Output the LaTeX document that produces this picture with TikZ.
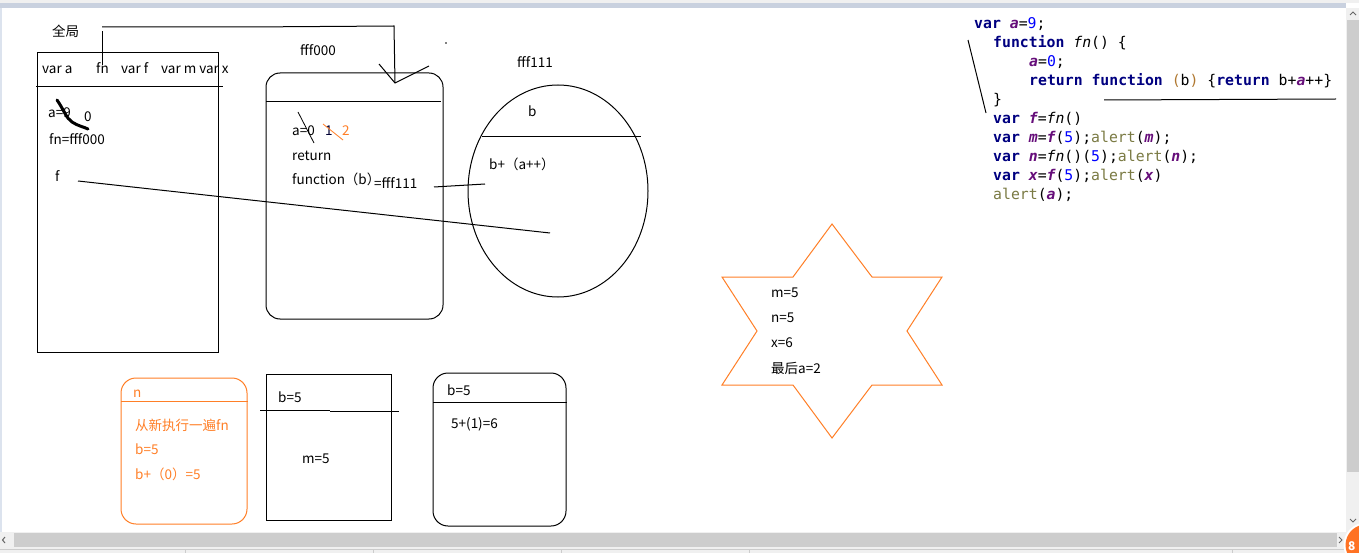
\documentclass[tikz,border=0pt]{standalone}
\usepackage{fontspec}
\setmainfont{Noto Sans CJK SC}
\newfontfamily\codefont{DejaVu Sans Mono}
\definecolor{paintorange}{HTML}{FF7F27}
\definecolor{kwcol}{HTML}{000080}
\definecolor{varcol}{HTML}{660E7A}
\definecolor{numcol}{HTML}{0000FF}
\definecolor{alcol}{HTML}{7A7A43}
\definecolor{parcol}{HTML}{B07830}
\definecolor{chromebg}{HTML}{F0F0F0}
\definecolor{chromebar}{HTML}{CDCDCD}
\definecolor{chrometop}{HTML}{C9D1DF}
\definecolor{chromeleft}{HTML}{DCE3EE}
\newcommand\cKw[1]{{\bfseries\color{kwcol}#1}}
\newcommand\cVr[1]{{\bfseries\itshape\color{varcol}#1}}
\newcommand\cNum[1]{{\color{numcol}#1}}
\newcommand\cAl[1]{{\color{alcol}#1}}
\newcommand\cPar[1]{{\color{parcol}#1}}
\begin{document}
\begin{tikzpicture}[x=1pt,y=-1pt,
  txt/.style={anchor=base west, inner sep=0pt, font=\fontsize{13.5}{16}\selectfont},
  otxt/.style={txt, text=paintorange},
  code/.style={anchor=base west, inner sep=0pt, font=\codefont\fontsize{14.8}{19}\selectfont},
  pen/.style={draw=black, line width=1pt},
  open/.style={draw=paintorange, line width=1pt}]
\useasboundingbox (0,0) rectangle (1359,553);
\fill[white] (0,0) rectangle (1359,553);

% ---------- window chrome ----------
\fill[chromebg] (0,0) rectangle (1359,3);
\fill[chrometop] (0,3) rectangle (1346,8);
\fill[chromeleft] (0,8) rectangle (2,532);
\fill[chromebg] (1346,8) rectangle (1359,532);
\fill[chromebar] (1347,20) rectangle (1359,472);
\fill[chromebg] (0,532) rectangle (1359,553);
\fill[chromebar] (14,533) rectangle (1337,547);
\draw[gray!80!black, line width=1pt] (1350,15) -- (1353,12) -- (1356,15);
\draw[gray!80!black, line width=1pt] (1350,519) -- (1353,522) -- (1356,519);
\draw[gray!80!black, line width=1pt] (5,537) -- (2.5,540) -- (5,543);
\draw[gray!80!black, line width=1pt] (1339,537) -- (1342,540) -- (1339,543);
\draw[gray!40] (0,549) -- (1346,549);
\foreach \sx in {185,373,561,749,1232} \draw[gray!40] (\sx,549) -- (\sx,553);
\begin{scope}
\clip (0,0) rectangle (1359,553);
\fill[white] (1366,545) circle (22.5);
\fill[paintorange!90!red] (1366,545) circle (20.5);
\node[anchor=base west, inner sep=0pt, text=white, font=\bfseries\fontsize{12}{13}\selectfont] (badge) at (1348,550) {8};
\end{scope}

% ---------- global scope ----------
\node[txt] (quanju) at (52,37) {全局};
\draw[pen] (37,53) rectangle (218,352);
\draw[pen] (36,87) -- (223,87);
\node[txt] (hva) at (42,74) {var a};
\node[txt] (hfn) at (96,74) {fn};
\node[txt] (hvf) at (121,74) {var f};
\node[txt] (hvm) at (161,74) {var m var x};
\node[txt] (ga) at (48,118) {a=9};
\node[txt] (gzero) at (84,122) {0};
\node[txt] (gfn) at (49,145) {fn=fff000};
\node[txt] (gf) at (55,182) {f};
\draw[black, line width=3pt, line cap=round, line join=round]
  (57,100) .. controls (64,110) and (66,118) .. (72,122) .. controls (78,126) and (84,127) .. (88,129);

% ---------- fff000 ----------
\node[txt] (lbl000) at (300,56) {fff000};
\draw[pen, rounded corners=14pt] (266,73) rectangle (443,319);
\draw[pen] (266,102) -- (441,102);
\node[txt] (fa) at (292,136) {a=0};
\node[txt, text=black!80!blue] (fone) at (325,136) {1};
\node[otxt] (ftwo) at (342,136) {2};
\draw[black, line width=0.8pt] (298,112) -- (314,143);
\draw[paintorange, line width=0.8pt] (323,124) -- (343,140);
\node[txt] (fret) at (292,161) {return};
\node[txt] (ffun) at (292,185) {function（b）};
\node[txt] (ffff) at (374,189) {=fff111};
\fill (446,43) circle (0.8);

% ---------- fff111 ----------
\node[txt] (lbl111) at (517,68) {fff111};
\draw[pen] (558,191) ellipse [x radius=90, y radius=106];
\draw[pen] (482,137) -- (641,137);
\node[txt] (eb) at (528,117) {b};
\node[txt] (ebody) at (489,170) {b+（a++）};

% ---------- connectors ----------
\coordinate (fnTop) at (102,65);
\coordinate (fnUp) at (102,31);
\coordinate (hMid) at (247,27);
\coordinate (hEnd) at (394,26);
\coordinate (arrTip) at (395,83);
\coordinate (arrL) at (379,64);
\coordinate (arrR) at (429,66);
\draw[pen] (fnTop) -- (fnUp);
\draw[pen] (fnUp |- hMid) -- (hMid) -- (hEnd) -- (arrTip);
\draw[pen] (arrL) -- (arrTip) -- (arrR);
\coordinate (fStart) at (78,181);
\coordinate (fEnd) at (550,233);
\draw[pen] (fStart) -- (fEnd);
\coordinate (lnkA) at (434,187);
\coordinate (lnkB) at (485,184);
\draw[pen] (lnkA) -- (lnkB);

% ---------- call n (orange) ----------
\draw[open, rounded corners=15pt] (121,378) rectangle (247,524);
\draw[open] (121,401.5) -- (248,401.5);
\node[otxt] (nlbl) at (133,397) {n};
\node[otxt] (nre) at (135,430) {从新执行一遍fn};
\node[otxt] (nb) at (135,454) {b=5};
\node[otxt] (nres) at (135,479) {b+（0）=5};

% ---------- call m ----------
\draw[pen] (266,374) rectangle (391,520);
\draw[pen] (260,410.5) -- (330,410.5);
\draw[pen] (330,411.3) -- (399,411.3);
\node[txt] (mb) at (278,402) {b=5};
\node[txt] (mres) at (302,463) {m=5};

% ---------- call x ----------
\draw[pen, rounded corners=15pt] (433,373) rectangle (566,526);
\draw[pen] (433,402) -- (567,402);
\node[txt] (xb) at (447,395) {b=5};
\node[txt] (xres) at (451,428) {5+(1)=6};

% ---------- star ----------
\draw[open, line join=miter] (832,224) -- (872,277) -- (942,277) -- (907,331) -- (942,385) -- (872,385)
  -- (832,438) -- (793,385) -- (722,385) -- (757,331) -- (722,277) -- (793,277) -- cycle;
\node[txt] (sm) at (771,297) {m=5};
\node[txt] (sn) at (771,322) {n=5};
\node[txt] (sx) at (771,347) {x=6};
\node[txt] (sa) at (771,373) {最后a=2};

% ---------- code ----------
\node[code] (c1) at (974,29) {\cKw{var} \cVr{a}=\cNum{9};};
\node[code] (c2) at (993,48) {\cKw{function} {\itshape fn}() \{};
\node[code] (c3) at (1029,67) {\cVr{a}=\cNum{0};};
\node[code] (c4) at (1029,86) {\cKw{return} \cKw{function} \cPar{(}b\cPar{)} \{\cKw{return} b+\cVr{a}++\}};
\node[code] (c5) at (993,105) {\}};
\node[code] (c6) at (993,124) {\cKw{var} \cVr{f}={\itshape fn}()};
\node[code] (c7) at (993,143) {\cKw{var} \cVr{m}=\cVr{f}(\cNum{5});\cAl{alert}(\cVr{m});};
\node[code] (c8) at (993,162) {\cKw{var} \cVr{n}={\itshape fn}()(\cNum{5});\cAl{alert}(\cVr{n});};
\node[code] (c9) at (993,181) {\cKw{var} \cVr{x}=\cVr{f}(\cNum{5});\cAl{alert}(\cVr{x})};
\node[code] (c10) at (993,200) {\cAl{alert}(\cVr{a});};
\coordinate (slA) at (968,40);
\coordinate (slB) at (986,113);
\draw[pen] (slA) -- (slB);
\coordinate (ulA) at (1104,100);
\coordinate (ulB) at (1336,99);
\draw[pen] (ulA) -- (ulB);
\end{tikzpicture}
\end{document}
